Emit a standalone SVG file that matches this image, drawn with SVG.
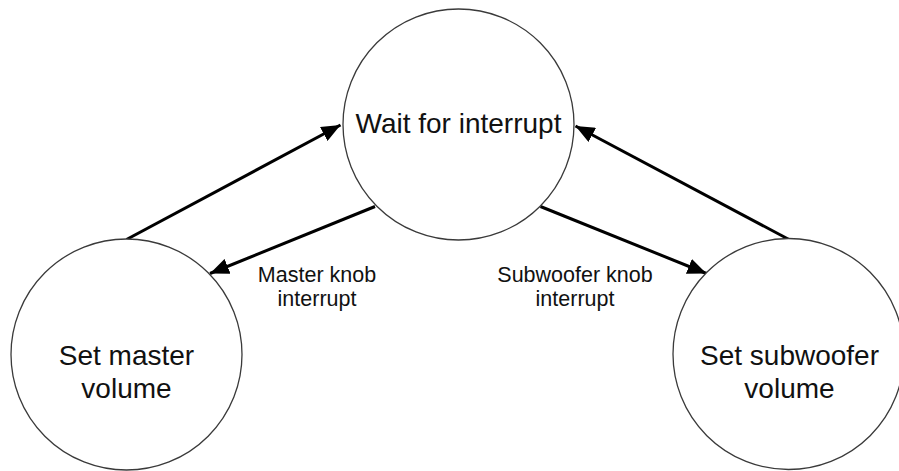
<svg xmlns="http://www.w3.org/2000/svg" width="899" height="471" viewBox="0 0 899 471">
  <defs>
    <style>
      .state { fill: #ffffff; stroke: #3a3a3a; stroke-width: 1.3; }
      .state-text { font-family: "Liberation Sans", Arial, sans-serif; font-size: 28px; fill: #111111; text-anchor: middle; }
      .edge { stroke: #000000; stroke-width: 3; fill: none; }
      .edge-label { font-family: "Liberation Sans", Arial, sans-serif; font-size: 21.5px; fill: #111111; text-anchor: middle; }
    </style>
    <marker id="arrow" markerUnits="userSpaceOnUse" markerWidth="20" markerHeight="16" refX="19" refY="8" orient="auto">
      <path d="M0,0 L19,8 L0,16 Z" fill="#000000"/>
    </marker>
  </defs>

  <rect width="899" height="471" fill="#ffffff"/>

  <!-- transitions -->
  <g id="connectors">
    <line class="edge" x1="126.5" y1="239.5" x2="340.5" y2="125" marker-end="url(#arrow)"/>
    <line class="edge" x1="375" y1="206.5" x2="210" y2="273.5" marker-end="url(#arrow)"/>
    <line class="edge" x1="540.5" y1="206.5" x2="706.5" y2="273.5" marker-end="url(#arrow)"/>
    <line class="edge" x1="789" y1="239.5" x2="575.5" y2="126" marker-end="url(#arrow)"/>
    <text class="edge-label" x="317" y="282">Master knob</text>
    <text class="edge-label" x="317" y="305.5">interrupt</text>
    <text class="edge-label" x="575" y="282">Subwoofer knob</text>
    <text class="edge-label" x="575" y="305.5">interrupt</text>
  </g>

  <!-- states -->
  <g id="wait">
    <circle class="state" cx="458.5" cy="124.5" r="115.5"/>
    <text class="state-text" x="458.5" y="133">Wait for interrupt</text>
  </g>
  <g id="master">
    <circle class="state" cx="126.5" cy="354.5" r="115.5"/>
    <text class="state-text" x="126.5" y="365">Set master</text>
    <text class="state-text" x="126.5" y="398">volume</text>
  </g>
  <g id="subwoofer">
    <circle class="state" cx="788.5" cy="354" r="115.5"/>
    <text class="state-text" x="789.5" y="365">Set subwoofer</text>
    <text class="state-text" x="789.5" y="398">volume</text>
  </g>
</svg>
